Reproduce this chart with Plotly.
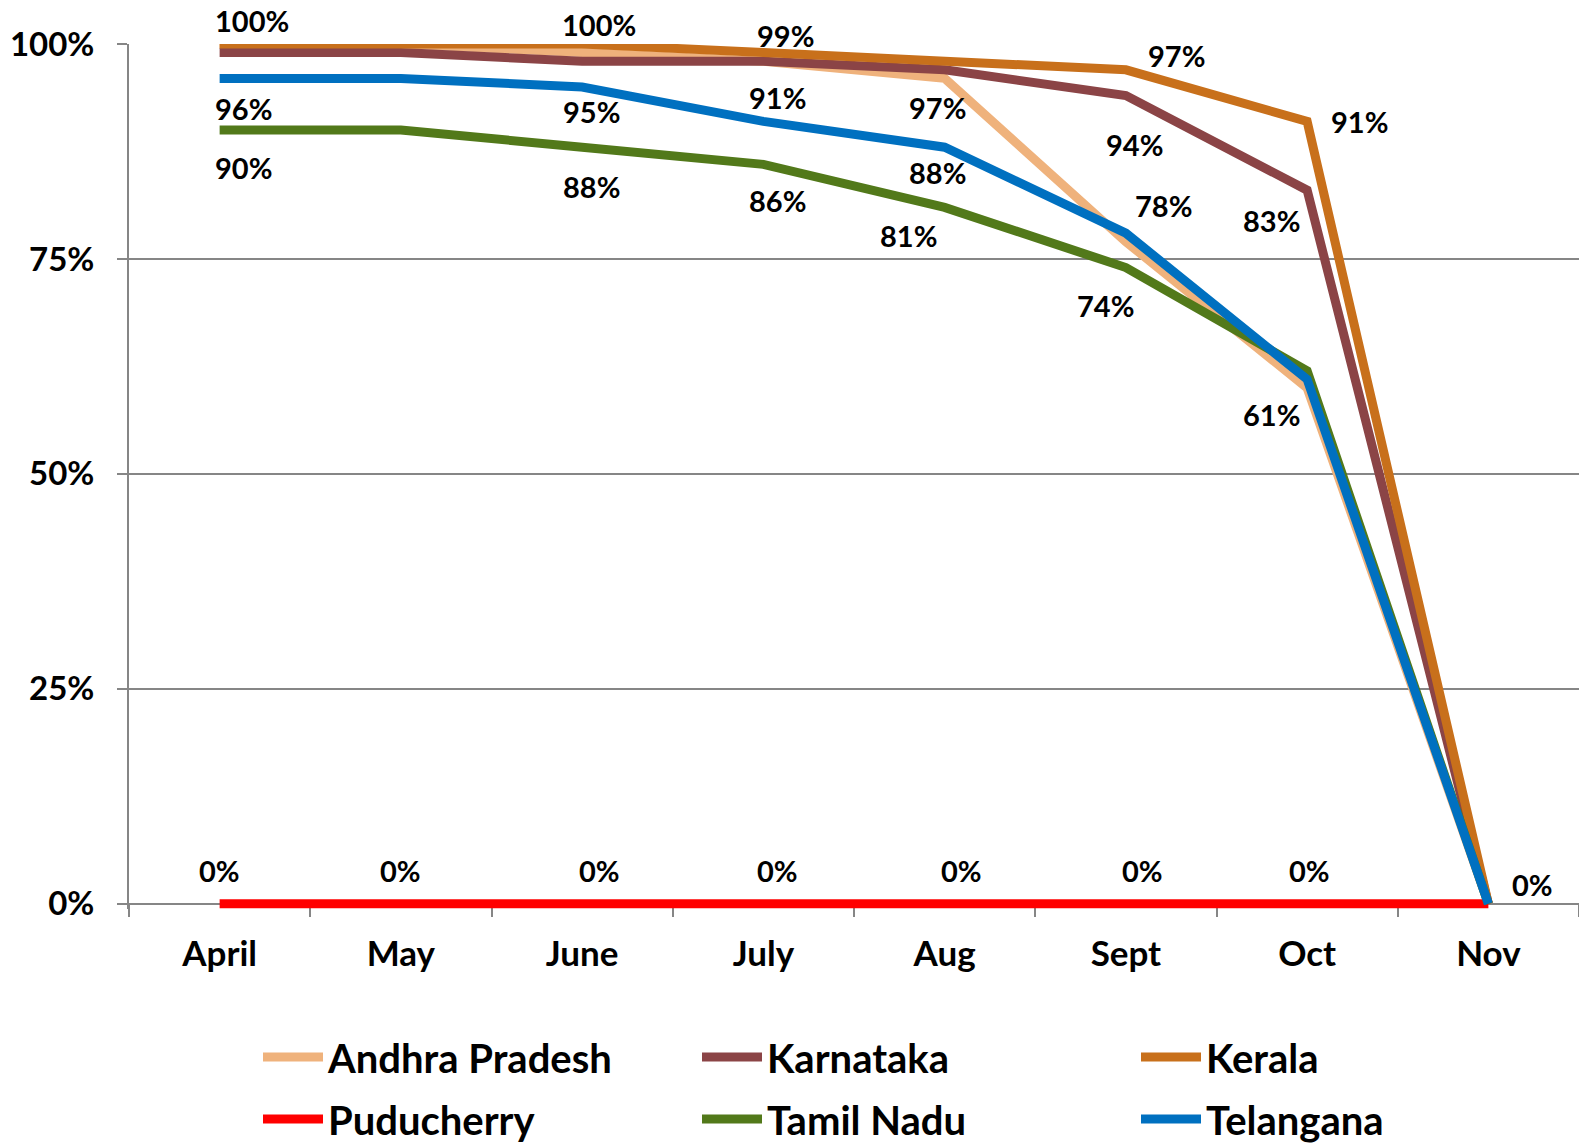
import plotly.graph_objects as go

# ---------------- data ----------------
months = ["April", "May", "June", "July", "Aug", "Sept", "Oct", "Nov"]
andhra_pradesh = [1.00, 1.00, 0.99, 0.98, 0.96, 0.77, 0.60, 0.00]
karnataka = [0.99, 0.99, 0.98, 0.98, 0.97, 0.94, 0.83, 0.00]
kerala = [1.00, 1.00, 1.00, 0.99, 0.98, 0.97, 0.91, 0.00]
puducherry = [0.00, 0.00, 0.00, 0.00, 0.00, 0.00, 0.00, 0.00]
tamil_nadu = [0.90, 0.90, 0.88, 0.86, 0.81, 0.74, 0.62, 0.00]
telangana = [0.96, 0.96, 0.95, 0.91, 0.88, 0.78, 0.61, 0.00]

series_names = ["Andhra Pradesh", "Karnataka", "Kerala", "Puducherry", "Tamil Nadu", "Telangana"]
series_values = [andhra_pradesh, karnataka, kerala, puducherry, tamil_nadu, telangana]
y_ticks = [0, 0.25, 0.5, 0.75, 1.0]
y_tick_labels = ["0%", "25%", "50%", "75%", "100%"]

# which data points carry a label: (series, month index)
labelled_points = [
    ("Kerala", 0), ("Telangana", 0), ("Tamil Nadu", 0), ("Puducherry", 0),
    ("Puducherry", 1),
    ("Kerala", 2), ("Telangana", 2), ("Tamil Nadu", 2), ("Puducherry", 2),
    ("Kerala", 3), ("Telangana", 3), ("Tamil Nadu", 3), ("Puducherry", 3),
    ("Karnataka", 4), ("Telangana", 4), ("Tamil Nadu", 4), ("Puducherry", 4),
    ("Kerala", 5), ("Karnataka", 5), ("Telangana", 5), ("Tamil Nadu", 5), ("Puducherry", 5),
    ("Kerala", 6), ("Karnataka", 6), ("Telangana", 6), ("Puducherry", 6),
    ("Telangana", 7),
]

# ---------------- style ----------------
colors = ["#EFB27C", "#8B4446", "#C8701B", "#FF0000", "#52791A", "#0070C0"]
legend_of = ["legend", "legend", "legend", "legend2", "legend2", "legend2"]
# pixel offsets of each label from its point (same order as labelled_points)
label_offsets = [
    (32, 24), (24, -30), (24, -38), (0, 33),
    (0, 33),
    (17, 20), (9, -25), (9, -39), (17, 33),
    (22, 17), (14, 24), (14, -36), (14, 33),
    (-7, -38), (-7, -25), (-36, -28), (17, 33),
    (51, 14), (9, -49), (38, 28), (-20, -38), (17, 33),
    (52, 0), (-36, -30), (-36, -35), (2, 33),
    (44, 19),
]

FONT = "Lato"
GRAY = "#868686"
Y_MIN = -0.006          # a little room below 0 so the 0% line is not clipped
PLOT_TOP = 44
ZERO_PX = 904
PX_PER_UNIT = ZERO_PX - PLOT_TOP
plot_bottom = ZERO_PX - Y_MIN * PX_PER_UNIT
plot_h = plot_bottom - PLOT_TOP
axis_pos = (-Y_MIN * PX_PER_UNIT) / plot_h

fig = go.Figure()
for name, vals, col, lg in zip(series_names, series_values, colors, legend_of):
    fig.add_trace(go.Scatter(
        x=months, y=vals, name=name, mode="lines",
        line=dict(color=col, width=9),
        legend=lg,
    ))

lookup = dict(zip(series_names, series_values))
annotations = []
for (sname, idx), (dx, dy) in zip(labelled_points, label_offsets):
    v = lookup[sname][idx]
    annotations.append(dict(
        x=months[idx], y=v, xref="x", yref="y",
        text=f"{v:.0%}", showarrow=False,
        xshift=dx, yshift=dy,
        font=dict(family=FONT, size=29, color="black", weight="bold"),
    ))

legend_common = dict(
    orientation="h", xref="container", yref="container",
    xanchor="left", yanchor="middle",
    entrywidth=364, itemwidth=60,
    font=dict(family=FONT, size=40, color="black", weight="bold"),
    bgcolor="rgba(0,0,0,0)",
)

fig.update_layout(
    width=1579, height=1148,
    margin=dict(l=129, r=0, t=PLOT_TOP, b=1148 - plot_bottom),
    paper_bgcolor="white", plot_bgcolor="white",
    annotations=annotations,
    showlegend=True,
    legend=dict(x=258 / 1579, y=1 - 1057 / 1148, **legend_common),
    legend2=dict(x=258 / 1579, y=1 - 1119 / 1148, **legend_common),
    xaxis=dict(
        type="category", range=[-0.5, 7.5],
        anchor="free", position=axis_pos, layer="below traces",
        showline=True, linecolor=GRAY, linewidth=2,
        ticks="outside", tickson="boundaries", ticklen=12, tickcolor=GRAY, tickwidth=1.5,
        showgrid=False, zeroline=False,
        tickfont=dict(family=FONT, size=35, color="black", weight="bold"),
        ticklabelstandoff=19,
    ),
    yaxis=dict(
        range=[Y_MIN, 1.0],
        tickvals=y_ticks, ticktext=y_tick_labels,
        showline=True, linecolor=GRAY, linewidth=2,
        ticks="outside", ticklen=10, tickcolor=GRAY, tickwidth=1.5,
        showgrid=True, gridcolor=GRAY, gridwidth=1.5,
        zeroline=False, layer="below traces",
        tickfont=dict(family=FONT, size=33, color="black", weight="bold"),
        ticklabelstandoff=16,
    ),
)

fig.write_html(
    "out.html",
    config={"displayModeBar": False},
    post_script="document.body.style.margin='0';document.body.style.overflow='hidden';",
)
